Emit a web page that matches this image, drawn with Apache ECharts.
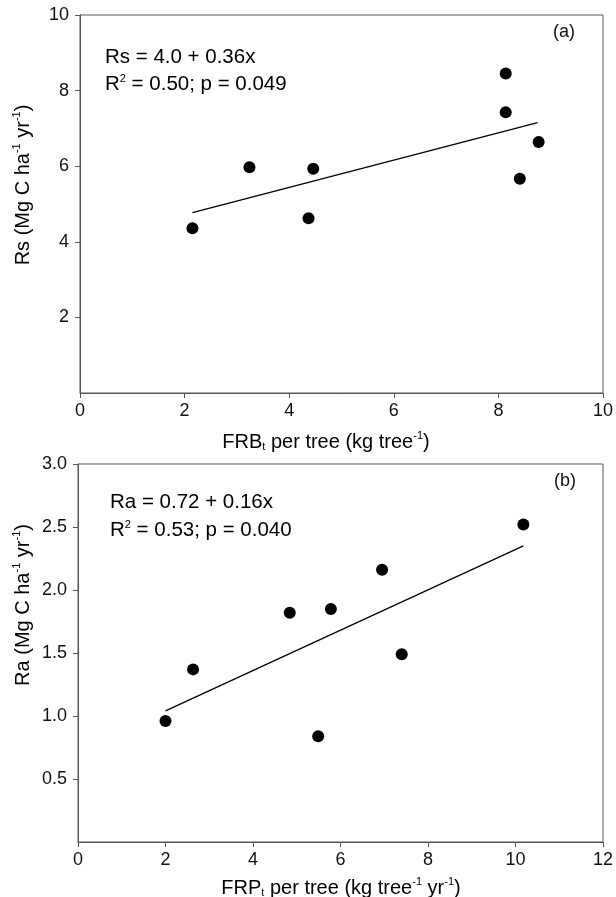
<!DOCTYPE html>
<html>
<head>
<meta charset="utf-8">
<script src="https://cdn.jsdelivr.net/npm/echarts@6/dist/echarts.min.js"></script>
<style>
  html, body { margin: 0; padding: 0; background: #fff; }
  #chart { width: 616px; height: 897px; }
</style>
</head>
<body>
<div id="chart"></div>
<script>
// panel (a): fine root biomass vs soil respiration
var frbA = [2.15, 3.24, 4.37, 4.46, 8.14, 8.14, 8.41, 8.77];
var rsA = [4.36, 5.97, 4.62, 5.93, 8.45, 7.43, 5.67, 6.64];
var fitXA = [2.15, 8.75];
var fitYA = [4.77, 7.15];

// panel (b): fine root production vs autotrophic respiration
var frpB = [2.0, 2.63, 4.84, 5.49, 5.78, 6.95, 7.40, 10.18];
var raB = [0.96, 1.37, 1.82, 0.84, 1.85, 2.16, 1.49, 2.52];
var fitXB = [2.0, 10.18];
var fitYB = [1.04, 2.35];

var FONT = "'Liberation Sans', Arial, sans-serif";
var axisCol = '#555';

function pairs(xs, ys) {
    return xs.map(function (x, i) { return [x, ys[i]]; });
}

var rich = {
    n: { fontSize: 20, fontFamily: FONT, color: '#111', lineHeight: 24, verticalAlign: 'bottom' },
    sup: { fontSize: 11, fontFamily: FONT, color: '#111', lineHeight: 24, verticalAlign: 'top', padding: [2, 0, 0, 0] },
    sub: { fontSize: 11, fontFamily: FONT, color: '#111', lineHeight: 22, verticalAlign: 'bottom' }
};
var richEq = {
    n: { fontSize: 20.5, fontFamily: FONT, color: '#111', lineHeight: 24, verticalAlign: 'bottom' },
    sup: { fontSize: 11, fontFamily: FONT, color: '#111', lineHeight: 24, verticalAlign: 'top', padding: [2, 0, 0, 0] }
};

function xAxisOf(idx, max) {
    return {
        gridIndex: idx, type: 'value', min: 0, max: max, interval: 2,
        axisLine: { show: true, lineStyle: { color: axisCol, width: 1 } },
        axisTick: { show: true, inside: false, length: 5, lineStyle: { color: axisCol } },
        axisLabel: { fontSize: 18, fontFamily: FONT, color: '#111', margin: 9 },
        splitLine: { show: false }
    };
}
function yAxisOf(idx, max, interval, fmt) {
    return {
        gridIndex: idx, type: 'value', min: 0, max: max, interval: interval,
        axisLine: { show: true, lineStyle: { color: axisCol, width: 1 } },
        axisTick: { show: true, inside: false, length: 5, lineStyle: { color: axisCol } },
        axisLabel: { fontSize: 18, fontFamily: FONT, color: '#111', margin: 11, showMinLabel: false, formatter: fmt },
        splitLine: { show: false }
    };
}

var chart = echarts.init(document.getElementById('chart'));
chart.setOption({
    backgroundColor: '#fff',
    animation: false,
    grid: [
        { left: 80, top: 15, width: 524, height: 378, show: true, borderColor: axisCol, borderWidth: 1 },
        { left: 78, top: 464, width: 525, height: 378, show: true, borderColor: axisCol, borderWidth: 1 }
    ],
    xAxis: [xAxisOf(0, 10), xAxisOf(1, 12)],
    yAxis: [
        yAxisOf(0, 10, 2, function (v) { return v; }),
        yAxisOf(1, 3, 0.5, function (v) { return v.toFixed(1); })
    ],
    series: [
        {
            type: 'line', xAxisIndex: 0, yAxisIndex: 0, data: pairs(fitXA, fitYA),
            showSymbol: false, lineStyle: { color: '#000', width: 1.3 }, silent: true
        },
        {
            type: 'scatter', xAxisIndex: 0, yAxisIndex: 0, data: pairs(frbA, rsA),
            symbol: 'circle', symbolSize: 12, itemStyle: { color: '#000', opacity: 1 }
        },
        {
            type: 'line', xAxisIndex: 1, yAxisIndex: 1, data: pairs(fitXB, fitYB),
            showSymbol: false, lineStyle: { color: '#000', width: 1.3 }, silent: true
        },
        {
            type: 'scatter', xAxisIndex: 1, yAxisIndex: 1, data: pairs(frpB, raB),
            symbol: 'circle', symbolSize: 12, itemStyle: { color: '#000', opacity: 1 }
        }
    ],
    graphic: [
        // equations
        { type: 'text', left: 105, top: 47, style: { text: '{n|Rs = 4.0 + 0.36x}', rich: richEq } },
        { type: 'text', left: 105, top: 71, style: { text: '{n|R}{sup|2}{n| = 0.50; p = 0.049}', rich: richEq } },
        { type: 'text', left: 110, top: 492, style: { text: '{n|Ra = 0.72 + 0.16x}', rich: richEq } },
        { type: 'text', left: 110, top: 517, style: { text: '{n|R}{sup|2}{n| = 0.53; p = 0.040}', rich: richEq } },
        // panel letters
        { type: 'text', x: 564, y: 32, style: { text: '(a)', fontSize: 18, fontFamily: FONT, fill: '#111', align: 'center', verticalAlign: 'middle' } },
        { type: 'text', x: 565, y: 481, style: { text: '(b)', fontSize: 18, fontFamily: FONT, fill: '#111', align: 'center', verticalAlign: 'middle' } },
        // x-axis titles
        { type: 'text', x: 326, y: 440, style: { text: '{n|FRB}{sub|t}{n| per tree (kg tree}{sup|-1}{n|)}', rich: rich, align: 'center', verticalAlign: 'middle' } },
        { type: 'text', x: 341, y: 886, style: { text: '{n|FRP}{sub|t}{n| per tree (kg tree}{sup|-1}{n| yr}{sup|-1}{n|)}', rich: rich, align: 'center', verticalAlign: 'middle' } },
        // y-axis titles
        { type: 'text', x: 21, y: 185, rotation: Math.PI / 2, style: { text: '{n|Rs (Mg C ha}{sup|-1}{n| yr}{sup|-1}{n|)}', rich: rich, align: 'center', verticalAlign: 'middle' } },
        { type: 'text', x: 21, y: 605, rotation: Math.PI / 2, style: { text: '{n|Ra (Mg C ha}{sup|-1}{n| yr}{sup|-1}{n|)}', rich: rich, align: 'center', verticalAlign: 'middle' } }
    ]
});
</script>
</body>
</html>
